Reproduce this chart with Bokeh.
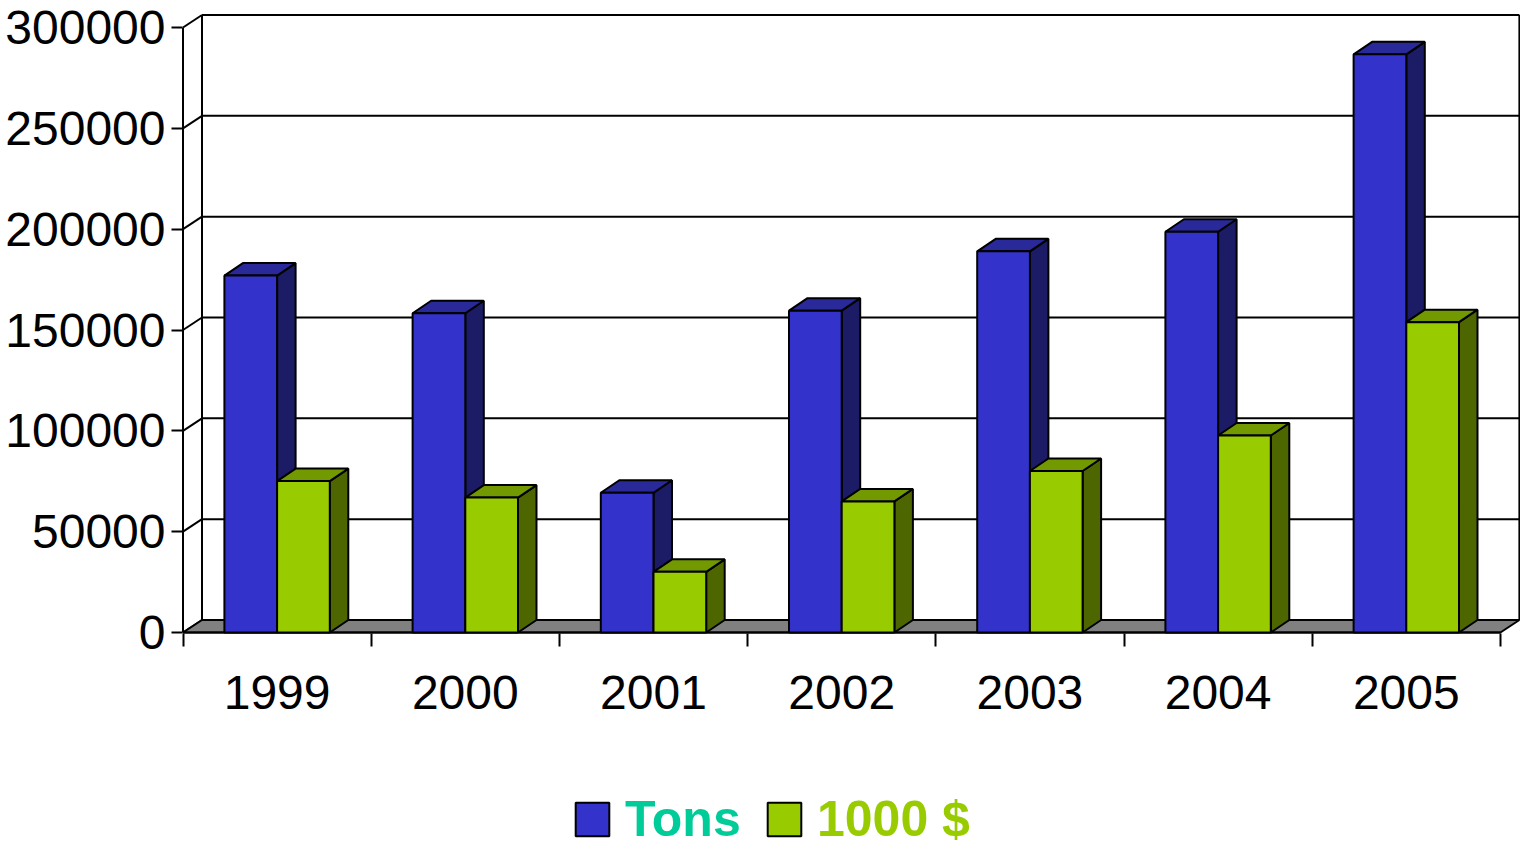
from bokeh.plotting import figure
from bokeh.models import (ColumnDataSource, Range1d, FixedTicker, Legend, LegendItem, LinearAxis)
from bokeh.layouts import column
from bokeh.embed import file_html
from bokeh.resources import INLINE

# ---- data ----
years = ["1999", "2000", "2001", "2002", "2003", "2004", "2005"]
tons = [177000, 158300, 69300, 159600, 189000, 198700, 286700]
usd_1000 = [75100, 66900, 30100, 65000, 80100, 97700, 153900]
y_ticks = [0, 50000, 100000, 150000, 200000, 250000, 300000]
series_names = ["Tons", "1000 $"]

# ---- styling ----
FONT = "Liberation Sans"
front_cols = ["#3333CC", "#99CC00"]
top_cols = ["#292999", "#739900"]
side_cols = ["#1C1C66", "#4D6600"]
label_cols = ["#00CC99", "#99CC00"]

W = 1520
H1 = 760
LH = 848 - H1
LEFT = 171
ZERO_PX = 632            # canvas y of value 0
FB_PX = 646              # canvas y of frame bottom
PXC = 188.2              # pixels per category
X0PX = 182.5             # pixel of category 0 on canvas
PXV = 605.0 / 300000     # pixels per value unit
DX = 19 / PXC            # wall depth in category units
DY = 12.5 / PXV          # wall depth in value units
BDX = 18.5 / PXC
BDY = 12.5 / PXV
BW = 0.28                # bar width
G0 = 0.22                # group offset in category
YMAX = y_ticks[-1]
N = len(years)

p = figure(width=W, height=H1, output_backend="svg", toolbar_location=None,
           x_range=Range1d((LEFT - X0PX) / PXC, (W - X0PX) / PXC),
           y_range=Range1d(-(FB_PX - ZERO_PX) / PXV, ZERO_PX / PXV),
           min_border_left=LEFT, min_border_right=0, min_border_top=0,
           min_border_bottom=H1 - FB_PX)
p.outline_line_color = None
p.xgrid.visible = False
p.ygrid.visible = False
p.xaxis.visible = False
p.yaxis.visible = False
p.background_fill_color = "white"
p.border_fill_color = "white"

# ---- walls / floor ----
p.segment(x0=[DX] * (len(y_ticks) - 1), y0=[v + DY for v in y_ticks[1:]],
          x1=[N + DX] * (len(y_ticks) - 1), y1=[v + DY for v in y_ticks[1:]],
          line_color="black", line_width=2)
p.segment(x0=[0] * len(y_ticks), y0=y_ticks, x1=[DX] * len(y_ticks),
          y1=[v + DY for v in y_ticks], line_color="black", line_width=2)
p.segment(x0=[DX, N + DX], y0=[DY, DY], x1=[DX, N + DX], y1=[YMAX + DY, YMAX + DY],
          line_color="black", line_width=2)
p.patch(x=[0, N, N + DX, DX], y=[0, 0, DY, DY], fill_color="#808080",
        line_color="black", line_width=2)
p.segment(x0=[0, 0], y0=[0, 0], x1=[0, N], y1=[YMAX, 0], line_color="black", line_width=2)

# ---- bars ----
for s, vals in enumerate([tons, usd_1000]):
    x0 = [i + G0 + s * BW for i in range(N)]
    x1 = [a + BW for a in x0]
    side_xs = [[b, b + BDX, b + BDX, b] for b in x1]
    side_ys = [[0, BDY, v + BDY, v] for v in vals]
    top_xs = [[a, b, b + BDX, a + BDX] for a, b in zip(x0, x1)]
    top_ys = [[v, v, v + BDY, v + BDY] for v in vals]
    p.patches(xs=side_xs, ys=side_ys, fill_color=side_cols[s], line_color="black", line_width=2)
    p.patches(xs=top_xs, ys=top_ys, fill_color=top_cols[s], line_color="black", line_width=2)
    src = ColumnDataSource(dict(left=x0, right=x1, bottom=[0] * N, top=vals))
    p.quad(left="left", right="right", bottom="bottom", top="top", source=src,
           fill_color=front_cols[s], line_color="black", line_width=2)

# ---- axes ----
yax = LinearAxis(ticker=FixedTicker(ticks=y_ticks, minor_ticks=[]))
yax.axis_line_color = None
yax.major_tick_in = 11
yax.major_tick_out = 0
yax.major_tick_line_width = 2
yax.major_label_standoff = 6
yax.major_label_overrides = {v: str(v) for v in y_ticks}
yax.major_label_text_font = FONT
yax.major_label_text_font_size = "48px"
yax.major_label_text_color = "black"
p.add_layout(yax, "left")

centers = [i + 0.5 for i in range(N)]
xax = LinearAxis(ticker=FixedTicker(ticks=centers, minor_ticks=list(range(N + 1))))
xax.axis_line_color = None
xax.major_tick_line_color = None
xax.major_tick_in = 0
xax.major_tick_out = 0
xax.minor_tick_in = 13
xax.minor_tick_out = 0
xax.minor_tick_line_width = 2
xax.minor_tick_line_color = "black"
xax.major_label_standoff = 29
xax.major_label_overrides = {c: y for c, y in zip(centers, years)}
xax.major_label_text_font = FONT
xax.major_label_text_font_size = "48px"
xax.major_label_text_color = "black"
p.add_layout(xax, "below")

# ---- legend strip (frame is aligned with the chart frame by the column) ----
lp = figure(width=W, height=LH, output_backend="svg", toolbar_location=None,
            x_range=Range1d(0, W - LEFT), y_range=Range1d(0, LH),
            min_border_left=LEFT, min_border_right=0,
            min_border_top=0, min_border_bottom=0)
lp.outline_line_color = None
lp.axis.visible = False
lp.grid.visible = False
lp.background_fill_color = "white"
lp.border_fill_color = "white"

GW = 42
locs = [(575 - 4 - LEFT, 0), (767 - 4 - LEFT, 0)]
for s in range(2):
    r = lp.quad(left=[-500], right=[-490], bottom=[-500], top=[-490], fill_color=front_cols[s],
                line_color="black", line_width=2)
    lg = Legend(items=[LegendItem(label=series_names[s], renderers=[r])],
                location=locs[s], orientation="horizontal",
                glyph_width=GW, glyph_height=GW, label_height=GW, label_standoff=12,
                padding=0, margin=0, spacing=0,
                border_line_color=None, background_fill_alpha=0,
                label_text_font=FONT, label_text_font_style="bold",
                label_text_font_size="50px", label_text_color=label_cols[s])
    lp.add_layout(lg, "center")

layout = column(p, lp, spacing=0)
open("out.html", "w").write(file_html(layout, INLINE))
